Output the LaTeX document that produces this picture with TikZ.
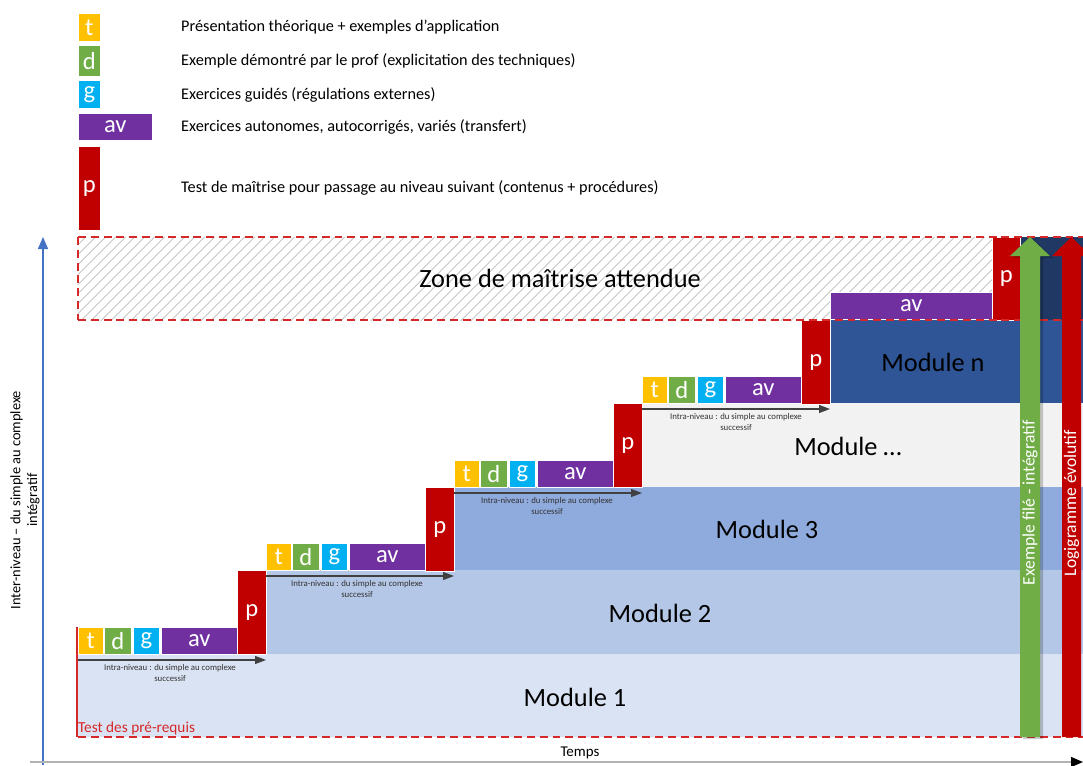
\documentclass[tikz,border=0pt]{standalone}
\usepackage{fontspec}
\setmainfont{Carlito}
\usetikzlibrary{arrows.meta, positioning, patterns.meta}

\definecolor{tcol}{HTML}{FFC000}
\definecolor{dcol}{HTML}{70AD47}
\definecolor{gcol}{HTML}{00B0F0}
\definecolor{avcol}{HTML}{7030A0}
\definecolor{pcol}{HTML}{C00000}
\definecolor{mone}{HTML}{DAE3F3}
\definecolor{mtwo}{HTML}{B4C7E7}
\definecolor{mthree}{HTML}{8FAADC}
\definecolor{mdots}{HTML}{F2F2F2}
\definecolor{mlast}{HTML}{2F5597}
\definecolor{navy}{HTML}{203864}
\definecolor{axisblue}{HTML}{4472C4}
\definecolor{limred}{HTML}{D62828}

\begin{document}
\begin{tikzpicture}[x=0.02cm, y=-0.02cm,
    blk/.style={
        rectangle, anchor=north west, inner sep=0pt, fill=#1, draw=white,
        line width=0.4pt, minimum height=0.54cm,
        text=white, font=\fontsize{14}{14}\selectfont
    },
    tall/.style={minimum width=0.58cm, minimum height=1.68cm},
    legtext/.style={anchor=west, font=\fontsize{9.25}{11}\selectfont},
    modtext/.style={font=\fontsize{15}{18}\selectfont},
    intra/.style={-{Triangle[length=2.2mm, width=1.6mm]}, black!75, line width=0.6pt},
    intratext/.style={font=\fontsize{5}{5.8}\selectfont, align=center, text=black!80},
    limit/.style={limred, line width=1.1pt, dash pattern=on 4.5pt off 2.8pt},
    vtext/.style={rotate=90, text=white, font=\fontsize{10}{12}\selectfont}
]
    \useasboundingbox[fill=white] (0,0) rectangle (1083,765);
    \clip (0,0) rectangle (1083,765);

    % zone de maitrise
    \fill[pattern={Lines[angle=45, distance=4pt, line width=0.6pt]}, pattern color=gray!40]
        (78,237) rectangle (1083,320);
    \node[modtext] (zone) at (560,278) {Zone de maîtrise attendue};

    % bandes des modules
    \fill[mone]   (78,654)  rectangle (1083,737);
    \fill[mtwo]   (266,570) rectangle (1083,654);
    \fill[mthree] (454,487) rectangle (1083,570);
    \fill[mdots]  (642,403) rectangle (1083,487);
    \fill[mlast]  (830,320) rectangle (1083,403);
    \fill[navy]   (1020,237) rectangle (1083,320);

    \node[modtext] (M1) at (575,697) {Module 1};
    \node[modtext] (M2) at (660,613) {Module 2};
    \node[modtext] (M3) at (767,529) {Module 3};
    \node[modtext] (M4) at (848,446) {Module …};
    \node[modtext] (M5) at (933,362) {Module n};

    % palier 1
    \node[blk=tcol,  minimum width=0.5cm]  (t1)  at (78,627)  {t};
    \node[blk=dcol,  minimum width=0.54cm] (d1)  at (104,627) {d};
    \node[blk=gcol,  minimum width=0.52cm] (g1)  at (133,627) {g};
    \node[blk=avcol, minimum width=1.52cm] (av1) at (161,627) {av};
    \node[blk=pcol,  tall]                 (p1)  at (237,570) {p};
    % palier 2
    \node[blk=tcol,  minimum width=0.5cm]  (t2)  at (266,543) {t};
    \node[blk=dcol,  minimum width=0.54cm] (d2)  at (292,543) {d};
    \node[blk=gcol,  minimum width=0.52cm] (g2)  at (321,543) {g};
    \node[blk=avcol, minimum width=1.52cm] (av2) at (349,543) {av};
    \node[blk=pcol,  tall]                 (p2)  at (425,487) {p};
    % palier 3
    \node[blk=tcol,  minimum width=0.5cm]  (t3)  at (454,460) {t};
    \node[blk=dcol,  minimum width=0.54cm] (d3)  at (480,460) {d};
    \node[blk=gcol,  minimum width=0.52cm] (g3)  at (509,460) {g};
    \node[blk=avcol, minimum width=1.52cm] (av3) at (537,460) {av};
    \node[blk=pcol,  tall]                 (p3)  at (613,403) {p};
    % palier 4
    \node[blk=tcol,  minimum width=0.5cm]  (t4)  at (642,376) {t};
    \node[blk=dcol,  minimum width=0.54cm] (d4)  at (668,376) {d};
    \node[blk=gcol,  minimum width=0.52cm] (g4)  at (697,376) {g};
    \node[blk=avcol, minimum width=1.52cm] (av4) at (725,376) {av};
    \node[blk=pcol,  tall]                 (p4)  at (801,320) {p};
    % palier n
    \node[blk=avcol, minimum width=3.24cm] (av5) at (830,292) {av};
    \node[blk=pcol,  minimum width=0.56cm, minimum height=1.66cm] (p5) at (992,237) {p};

    % intra-niveau
    \coordinate (i1a) at (78,660);  \coordinate (i1b) at (266,660);
    \coordinate (i2a) at (266,576); \coordinate (i2b) at (454,576);
    \coordinate (i3a) at (454,493); \coordinate (i3b) at (642,493);
    \coordinate (i4a) at (642,409); \coordinate (i4b) at (830,409);
    \draw[intra] (i1a) -- (i1b);
    \draw[intra] (i2a) -- (i2b);
    \draw[intra] (i3a) -- (i3b);
    \draw[intra] (i4a) -- (i4b);
    \node[intratext] (n1) at (170,673) {Intra-niveau : du simple au complexe\\successif};
    \node[intratext] (n2) at (357,589) {Intra-niveau : du simple au complexe\\successif};
    \node[intratext] (n3) at (547,506) {Intra-niveau : du simple au complexe\\successif};
    \node[intratext] (n4) at (736,422) {Intra-niveau : du simple au complexe\\successif};

    % limites
    \draw[limit] (78,237) -- (1083,237);
    \draw[limit] (78,320) -- (1083,320);
    \draw[limit] (78,237) -- (78,320);
    \draw[limit] (78,737) -- (1083,737);
    \draw[limred, line width=1.1pt] (77,627) -- (77,737);
    \node[anchor=west, text=limred, font=\fontsize{8.7}{10}\selectfont, inner sep=1pt]
        (pre) at (76,728) {Test des pré-requis};

    % fleches de droite
    \fill[black, opacity=0.2, shift={(3,2)}]
        (1020,737) -- (1020,256) -- (1010,256) -- (1030,237) -- (1050,256) -- (1040,256) -- (1040,737) -- cycle;
    \fill[dcol]
        (1020,737) -- (1020,256) -- (1010,256) -- (1030,237) -- (1050,256) -- (1040,256) -- (1040,737) -- cycle;
    \fill[pcol]
        (1062,737) -- (1062,256) -- (1052,256) -- (1071.5,237) -- (1091,256) -- (1081,256) -- (1081,737) -- cycle;
    \node[vtext] (fil) at (1030,503) {Exemple filé - intégratif};
    \node[vtext] (logi) at (1071.5,503) {Logigramme évolutif};

    % axes
    \coordinate (yb) at (43,765); \coordinate (yt) at (43,237);
    \coordinate (xb) at (30,762); \coordinate (xt) at (1083,762);
    \draw[axisblue, line width=0.8pt, -{Triangle[length=2.4mm, width=2mm]}] (yb) -- (yt);
    \draw[gray!60, line width=0.8pt, -{Triangle[length=2.4mm, width=2mm, black]}] (xb) -- (xt);
    \node[font=\fontsize{8.5}{10}\selectfont] (temps) at (580,753) {Temps};
    \node[rotate=90, align=center, font=\fontsize{8.2}{9.5}\selectfont] (niv) at (25,500)
        {Inter-niveau – du simple au complexe\\intégratif};

    % legende
    \node[blk=tcol,  minimum width=0.44cm, minimum height=0.56cm] (lt)  at (78,13)  {t};
    \node[blk=dcol,  minimum width=0.44cm, minimum height=0.62cm] (ld)  at (78,45)  {d};
    \node[blk=gcol,  minimum width=0.44cm, minimum height=0.56cm] (lg)  at (78,80)  {g};
    \node[blk=avcol, minimum width=1.48cm, minimum height=0.54cm] (lav) at (78,113) {av};
    \node[blk=pcol,  minimum width=0.44cm, minimum height=1.68cm] (lp)  at (78,146) {p};
    \node[legtext] (Lt)  at (175,27)  {Présentation théorique + exemples d’application};
    \node[legtext] (Ld)  at (175,61)  {Exemple démontré par le prof (explicitation des techniques)};
    \node[legtext] (Lg)  at (175,95)  {Exercices guidés (régulations externes)};
    \node[legtext] (Lav) at (175,127) {Exercices autonomes, autocorrigés, variés (transfert)};
    \node[legtext] (Lp)  at (175,188) {Test de maîtrise pour passage au niveau suivant (contenus + procédures)};
\end{tikzpicture}
\end{document}
